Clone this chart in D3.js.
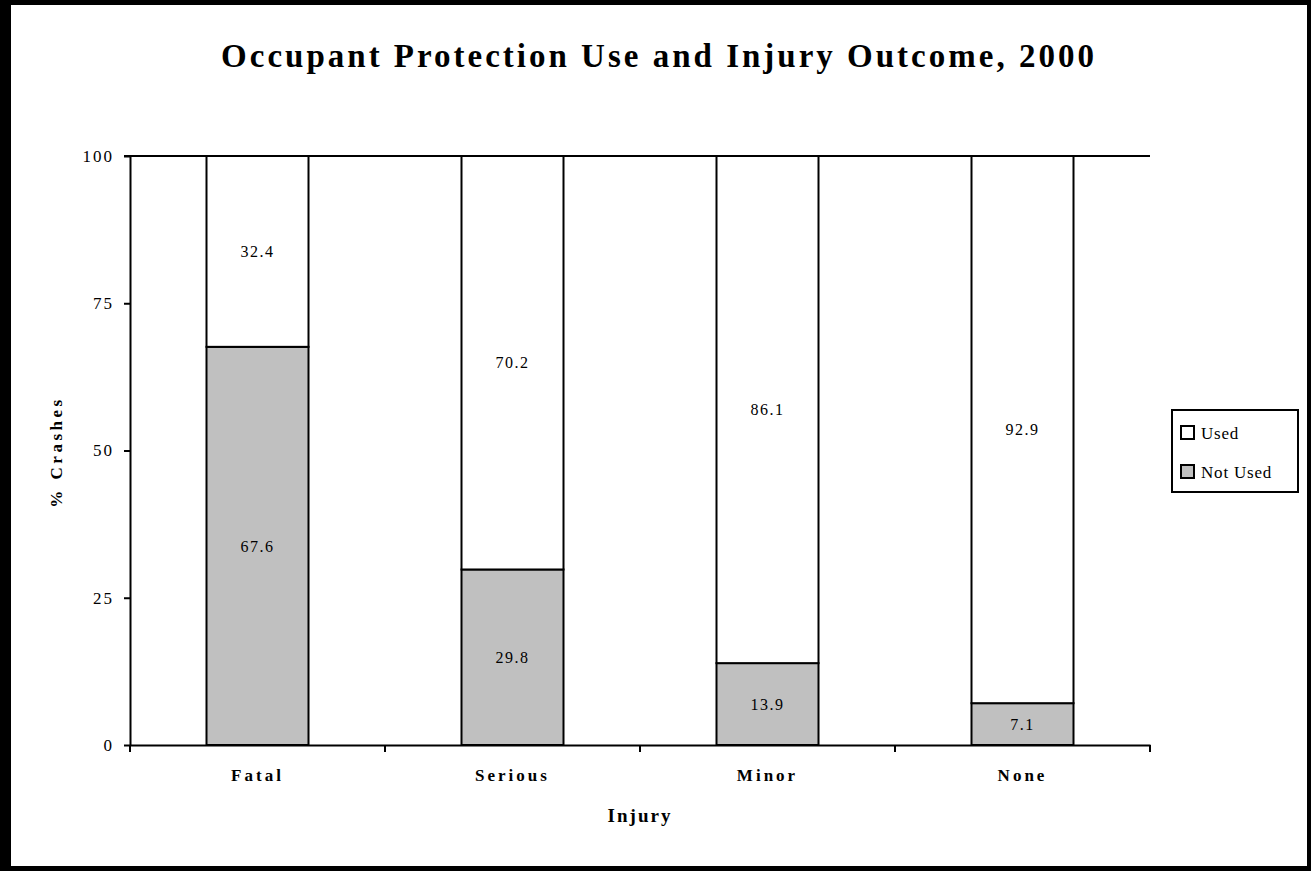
<html>
<head>
<meta charset="utf-8">
<script src="https://d3js.org/d3.v7.min.js"></script>
<style>
  body { margin: 0; background: #fff; }
  text { font-family: "Liberation Serif", "Times New Roman", serif; fill: #000; }
</style>
</head>
<body>
<div id="chart"></div>
<script>
// data
var categories = ["Fatal", "Serious", "Minor", "None"];
var notUsed = [67.6, 29.8, 13.9, 7.1];
var used = [32.4, 70.2, 86.1, 92.9];
var yTicks = [0, 25, 50, 75, 100];
var seriesNames = ["Used", "Not Used"];

var W = 1311, H = 871;
var plotLeft = 130, plotRight = 1150, plotTop = 156, plotBottom = 745;

var svg = d3.select("#chart").append("svg")
    .attr("width", W).attr("height", H);

// outer frame
svg.append("rect").attr("x", 0).attr("y", 0).attr("width", W).attr("height", H).attr("fill", "#000");
svg.append("rect").attr("x", 11).attr("y", 5).attr("width", 1296).attr("height", 861).attr("fill", "#fff");

var x = d3.scaleBand().domain(categories).range([plotLeft, plotRight]).paddingInner(0.6).paddingOuter(0.3);
var xOuter = d3.scaleBand().domain(categories).range([plotLeft, plotRight]);
var y = d3.scaleLinear().domain([0, 100]).range([plotBottom, plotTop]);

var rows = categories.map(function(c, i) {
    return { cat: c, notUsed: notUsed[i], used: used[i] };
});
var stack = d3.stack().keys(["notUsed", "used"])(rows);
var fills = { notUsed: "#c0c0c0", used: "#ffffff" };

// top line at 100
svg.append("line")
    .attr("x1", plotLeft - 6).attr("x2", plotRight)
    .attr("y1", y(100)).attr("y2", y(100))
    .attr("stroke", "#000").attr("stroke-width", 2);

stack.forEach(function(layer) {
    var g = svg.append("g");
    g.selectAll("rect").data(layer).enter().append("rect")
        .attr("x", function(d) { return x(d.data.cat); })
        .attr("width", x.bandwidth())
        .attr("y", function(d) { return y(d[1]); })
        .attr("height", function(d) { return y(d[0]) - y(d[1]); })
        .attr("fill", fills[layer.key])
        .attr("stroke", "#000").attr("stroke-width", 2);
    g.selectAll("text").data(layer).enter().append("text")
        .attr("x", function(d) { return x(d.data.cat) + x.bandwidth() / 2; })
        .attr("y", function(d) { return (y(d[0]) + y(d[1])) / 2; })
        .attr("dy", "0.35em")
        .attr("text-anchor", "middle")
        .attr("font-size", 16)
        .attr("letter-spacing", 1.5)
        .text(function(d) { return (d[1] - d[0]).toFixed(1); });
});

// y axis
var yAxis = svg.append("g")
    .attr("transform", "translate(" + plotLeft + ",0)")
    .call(d3.axisLeft(y).tickValues(yTicks).tickSize(6).tickPadding(10).tickSizeOuter(0));
yAxis.selectAll("path, line").attr("stroke", "#000").attr("stroke-width", 2);
yAxis.selectAll("text").attr("font-size", 17).attr("letter-spacing", 2)
    .style("font-family", "Liberation Serif");

// x axis
var xAxis = svg.append("g")
    .attr("transform", "translate(0," + plotBottom + ")")
    .call(d3.axisBottom(xOuter).tickSize(0).tickPadding(24).tickSizeOuter(0));
xAxis.select("path").attr("stroke", "#000").attr("stroke-width", 2);
xAxis.selectAll("text").attr("font-size", 17).attr("font-weight", "bold")
    .attr("letter-spacing", 3).style("font-family", "Liberation Serif");
// category boundary ticks
var bounds = categories.map(function(c) { return xOuter(c); }).concat([plotRight]);
svg.append("g").selectAll("line").data(bounds).enter().append("line")
    .attr("x1", function(d) { return d; }).attr("x2", function(d) { return d; })
    .attr("y1", plotBottom).attr("y2", plotBottom + 7)
    .attr("stroke", "#000").attr("stroke-width", 2);

// title
svg.append("text")
    .attr("x", 659).attr("y", 67)
    .attr("text-anchor", "middle")
    .attr("font-size", 33).attr("font-weight", "bold")
    .attr("letter-spacing", 3)
    .text("Occupant Protection Use and Injury Outcome,  2000");

// axis titles
svg.append("text")
    .attr("x", 640).attr("y", 822)
    .attr("text-anchor", "middle")
    .attr("font-size", 19).attr("font-weight", "bold")
    .attr("letter-spacing", 2)
    .text("Injury");
svg.append("text")
    .attr("transform", "translate(62,452) rotate(-90)")
    .attr("text-anchor", "middle")
    .attr("font-size", 17).attr("font-weight", "bold")
    .attr("letter-spacing", 3.5)
    .text("% Crashes");

// legend
var lg = svg.append("g").attr("transform", "translate(1172,410)");
lg.append("rect").attr("width", 126).attr("height", 82)
    .attr("fill", "#fff").attr("stroke", "#000").attr("stroke-width", 2);
seriesNames.forEach(function(name, i) {
    var key = i === 0 ? "used" : "notUsed";
    lg.append("rect").attr("x", 9).attr("y", 16 + i * 39)
        .attr("width", 13).attr("height", 13)
        .attr("fill", fills[key]).attr("stroke", "#000").attr("stroke-width", 2);
    lg.append("text").attr("x", 29).attr("y", 29 + i * 39)
        .attr("font-size", 17).attr("letter-spacing", 0.8)
        .text(name);
});
</script>
</body>
</html>
